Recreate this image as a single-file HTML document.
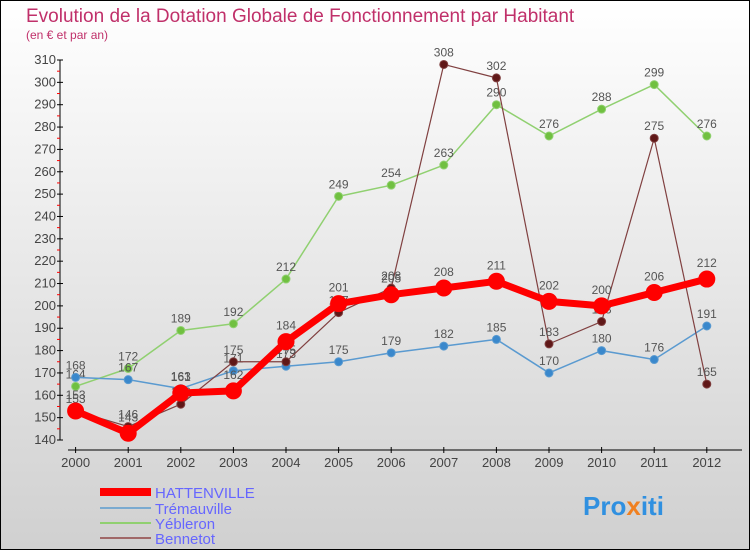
<!DOCTYPE html>
<html><head><meta charset="utf-8"><style>
body{margin:0}
#c{width:750px;height:550px;position:relative;overflow:hidden;font-family:"Liberation Sans",sans-serif}
</style></head><body>
<div id="c">
<svg id="s" width="750" height="550" xmlns="http://www.w3.org/2000/svg">
<defs><linearGradient id="bg" x1="0" y1="0" x2="0" y2="1"><stop offset="0" stop-color="#ffffff"/><stop offset="1" stop-color="#d0d0d0"/></linearGradient></defs>
<rect x="0.5" y="0.5" width="749" height="549" fill="url(#bg)" stroke="#000"/>
<text x="26" y="22" font-size="19" fill="#c0306a" font-weight="normal">Evolution de la Dotation Globale de Fonctionnement par Habitant</text>
<text x="26" y="39" font-size="12" fill="#c0306a">(en € et par an)</text>
<g id="axes"></g><g id="series"></g>
<g>
<rect x="100" y="488" width="51" height="8" fill="#f00"/>
<text x="155" y="498" font-size="15" fill="#6666ff">HATTENVILLE</text>
<rect x="100" y="507" width="51" height="2" fill="#7aaad0"/>
<text x="155" y="514" font-size="15" fill="#6666ff">Trémauville</text>
<rect x="100" y="522" width="51" height="2" fill="#90d070"/>
<text x="155" y="529" font-size="15" fill="#6666ff">Yébleron</text>
<rect x="100" y="537" width="51" height="2" fill="#a06868"/>
<text x="155" y="544" font-size="15" fill="#6666ff">Bennetot</text>
</g>
<text x="583" y="515" font-size="26" font-weight="bold" fill="#3090e0">Pro<tspan fill="#f08020">x</tspan>iti</text>
</svg>
</div>
<script>
const years=[2000,2001,2002,2003,2004,2005,2006,2007,2008,2009,2010,2011,2012];
const yTicks=[140,150,160,170,180,190,200,210,220,230,240,250,260,270,280,290,300,310];
const hattenville=[153,143,161,162,184,201,205,208,211,202,200,206,212];
const tremauville=[168,167,163,171,173,175,179,182,185,170,180,176,191];
const yebleron=[164,172,189,192,212,249,254,263,290,276,288,299,276];
const bennetot=[153,146,156,175,175,197,208,308,302,183,193,275,165];
const NS="http://www.w3.org/2000/svg";
const X=i=>75.6+i*52.6;
const Y=v=>440-(v-140)*380/170;
function mk(t,a,p){const e=document.createElementNS(NS,t);for(const k in a)e.setAttribute(k,a[k]);p.appendChild(e);return e;}
const ax=document.getElementById('axes');
let l=mk('line',{x1:60,y1:60,x2:60,y2:440,stroke:'#000'},ax);


l=mk('line',{x1:68,y1:450,x2:742,y2:450,stroke:'#000'},ax);


yTicks.forEach(v=>{
 mk('line',{x1:57,y1:Y(v),x2:63,y2:Y(v),stroke:'#000'},ax);
 if(v<310)mk('line',{x1:57,y1:Y(v+5),x2:60,y2:Y(v+5),stroke:'#f00'},ax);
 const t=mk('text',{x:56,y:Y(v)+4,'font-size':13,fill:'#444','text-anchor':'end'},ax);
 t.textContent=v;
 
 
});
years.forEach((y,i)=>{
 mk('line',{x1:X(i),y1:447,x2:X(i),y2:453,stroke:'#000'},ax);
 const t=mk('text',{x:X(i),y:467,'font-size':13,fill:'#444','text-anchor':'middle'},ax);
 t.textContent=y;
 
 
});
const sg=document.getElementById('series');
function series(d,name,col,dot,w,r){
 const g=mk('g',{},sg);
 
 
 mk('polyline',{points:d.map((v,i)=>X(i)+','+Y(v)).join(' '),fill:'none',stroke:col,'stroke-width':w,'stroke-linejoin':'round'},g);
 d.forEach((v,i)=>{
  const c=mk('circle',{cx:X(i),cy:Y(v),r:r,fill:dot,stroke:col,'stroke-width':1},g);
  
  
  const t=mk('text',{x:X(i),y:Y(v)-8-(r>5?4:0),'font-size':12,fill:'#555','text-anchor':'middle'},g);
  t.textContent=v;
  
  
 });
}
series(yebleron,'yebleron','#90d070','#70c040',1.5,4);
series(tremauville,'tremauville','#5a9ad0','#3a88cc',1.5,4);
series(bennetot,'bennetot','#804040','#601818',1.2,4);
series(hattenville,'hattenville','#f00','#f00',7,8);
</script>
</body></html>
